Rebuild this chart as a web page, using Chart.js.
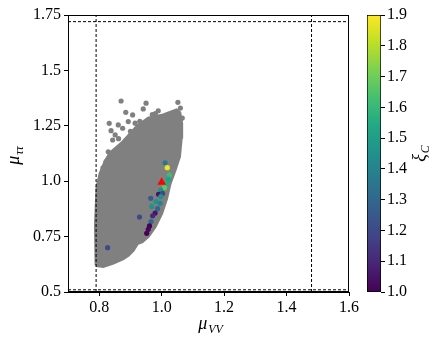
<!DOCTYPE html>
<html><head><meta charset="utf-8">
<script src="https://cdn.jsdelivr.net/npm/chart.js@4"></script>
<style>
html,body{margin:0;padding:0;background:#fff;}
#wrap{position:relative;width:441px;height:347px;overflow:hidden;}
canvas{position:absolute;top:0;}
</style>
</head><body>
<div id="wrap">
<canvas id="main" width="441" height="347" style="left:0;width:441px;height:347px"></canvas>
<canvas id="cb" width="86" height="347" style="left:355px;width:86px;height:347px"></canvas>
</div>
<script>
// ---------- data ----------
const xTicks = [0.8, 1.0, 1.2, 1.4, 1.6];
const xTickLabels = ['0.8', '1.0', '1.2', '1.4', '1.6'];
const yTicks = [0.5, 0.75, 1.0, 1.25, 1.5, 1.75];
const yTickLabels = ['0.5', '0.75', '1.0', '1.25', '1.5', '1.75'];
const cbTicks = [1.0, 1.1, 1.2, 1.3, 1.4, 1.5, 1.6, 1.7, 1.8, 1.9];
const cbTickLabels = ['1.0', '1.1', '1.2', '1.3', '1.4', '1.5', '1.6', '1.7', '1.8', '1.9'];
const cutX = [0.79, 1.48];
const cutY = [0.51, 1.72];

// outline of the dense grey cloud of scan points (mu_VV, mu_tautau)
const cloudOutline = [
  [0.790,0.620],[0.813,0.615],[0.845,0.630],[0.877,0.650],[0.893,0.665],[0.909,0.688],
  [0.922,0.718],[0.938,0.727],[0.957,0.750],[0.979,0.795],[1.000,0.855],[1.016,0.923],
  [1.027,0.990],[1.043,1.050],[1.057,1.111],[1.063,1.200],[1.064,1.261],[1.058,1.310],
  [1.048,1.321],[1.005,1.299],[0.957,1.284],[0.920,1.246],[0.876,1.178],[0.835,1.127],
  [0.819,1.089],[0.803,1.035],[0.793,0.975],[0.788,0.800],[0.790,0.620]
];
// isolated grey points outside the dense cloud
const cloudDots = [
  [0.870,1.362],[0.950,1.352],[1.052,1.356],[0.941,1.326],[0.885,1.311],[0.907,1.299],
  [0.989,1.318],[1.018,1.296],[1.038,1.306],[0.832,1.261],[0.861,1.254],[0.838,1.228],
  [0.875,1.239],[0.893,1.269],[0.851,1.209],[0.843,1.186],[0.829,1.133],[0.822,1.088],
  [0.970,1.300],[0.930,1.270],[0.900,1.225],[0.862,1.192],[1.060,1.330],[1.066,1.285],
  [0.812,1.060],[0.980,1.305],[0.915,1.262]
];
// points coloured by xi_C
const colorPts = [
  [1.011,1.083],[1.018,1.061],[1.025,1.028],[1.021,1.009],[1.016,0.990],[1.009,0.971],
  [0.997,0.960],[0.990,0.941],[1.003,0.945],[0.997,0.930],[0.965,0.923],[0.982,0.908],
  [0.995,0.900],[0.968,0.886],[0.987,0.876],[0.979,0.856],[0.971,0.844],[0.929,0.838],
  [0.966,0.818],[0.961,0.798],[0.957,0.783],[0.952,0.765],[0.827,0.700]
];
const colorXi = [
  1.35,1.88,1.62,1.52,1.55,1.68,
  1.45,1.05,1.20,1.45,1.25,1.45,
  1.40,1.45,1.30,1.05,1.10,1.20,
  1.30,1.00,1.02,1.00,1.20
];
const bestPoint = [[1.000, 0.995]];
const xiMin = 1.0, xiMax = 1.9;

// ---------- styling helpers ----------
const VIRIDIS = ['#440154','#482475','#414487','#355f8d','#2a788e','#21918c','#22a884','#44bf70','#7ad151','#bddf26','#fde725'];
function hexToRgb(h){return [parseInt(h.slice(1,3),16),parseInt(h.slice(3,5),16),parseInt(h.slice(5,7),16)];}
function viridis(t){
  t = Math.max(0, Math.min(1, t));
  const n = VIRIDIS.length - 1;
  const i = Math.min(n - 1, Math.floor(t * n));
  const f = t * n - i;
  const a = hexToRgb(VIRIDIS[i]), b = hexToRgb(VIRIDIS[i + 1]);
  const c = a.map((v, k) => Math.round(v + (b[k] - v) * f));
  return 'rgb(' + c.join(',') + ')';
}
const FONT = 'Liberation Serif, DejaVu Serif, serif';
const tickFont = {family: FONT, size: 16};
const GRAY = '#808080';
const toXY = arr => arr.map(p => ({x: p[0], y: p[1]}));

function drawSubLabel(ctx, base, sub, cx, cy, rot) {
  ctx.save();
  ctx.translate(cx, cy);
  ctx.rotate(rot);
  ctx.fillStyle = '#000';
  ctx.textBaseline = 'alphabetic';
  ctx.textAlign = 'left';
  const bf = 'italic 18px ' + FONT, sf = 'italic 12px ' + FONT;
  ctx.font = bf; const wb = ctx.measureText(base).width;
  ctx.font = sf; const ws = ctx.measureText(sub).width;
  const x0 = -(wb + ws + 1) / 2;
  ctx.font = bf; ctx.fillText(base, x0, 5);
  ctx.font = sf; ctx.fillText(sub, x0 + wb + 1, 9);
  ctx.restore();
}

const framePlugin = {
  id: 'frame',
  afterDatasetsDraw(chart) {
    const {ctx, chartArea: a} = chart;
    ctx.save();
    ctx.strokeStyle = '#000';
    ctx.lineWidth = 1;
    ctx.strokeRect(Math.round(a.left) + 0.5, Math.round(a.top) + 0.5, Math.round(a.right - a.left) - 1, Math.round(a.bottom - a.top) - 1);
    ctx.restore();
    drawSubLabel(ctx, 'μ', 'VV', (a.left + a.right) / 2 + 2, 324, 0);
    drawSubLabel(ctx, 'μ', 'ττ', 14, (a.top + a.bottom) / 2 + 2, -Math.PI / 2);
  }
};

const dashed = {borderColor: '#000', borderWidth: 1, borderDash: [3, 2], pointRadius: 0, showLine: true, fill: false, order: 0};

new Chart(document.getElementById('main'), {
  type: 'scatter',
  data: {
    datasets: [
      Object.assign({data: [{x: cutX[0], y: 0.5}, {x: cutX[0], y: 1.75}]}, dashed),
      Object.assign({data: [{x: cutX[1], y: 0.5}, {x: cutX[1], y: 1.75}]}, dashed),
      Object.assign({data: [{x: 0.7, y: cutY[0]}, {x: 1.6, y: cutY[0]}]}, dashed),
      Object.assign({data: [{x: 0.7, y: cutY[1]}, {x: 1.6, y: cutY[1]}]}, dashed),
      {data: toXY(bestPoint), pointStyle: 'triangle', pointRadius: 5, backgroundColor: '#ff0000', borderWidth: 0, order: 1},
      {data: toXY(colorPts), pointRadius: 2.6, borderWidth: 0,
       backgroundColor: colorXi.map(v => viridis((v - xiMin) / (xiMax - xiMin))), order: 2},
      {data: toXY(cloudDots), pointRadius: 2.6, borderWidth: 0, backgroundColor: GRAY, order: 3},
      {data: toXY(cloudOutline), showLine: true, fill: 'shape', tension: 0, pointRadius: 0,
       borderColor: GRAY, borderWidth: 3, backgroundColor: GRAY, order: 4}
    ]
  },
  options: {
    responsive: false,
    animation: false,
    events: [],
    layout: {padding: {left: 0, right: 92, top: 15, bottom: 0}},
    plugins: {legend: {display: false}, tooltip: {enabled: false}},
    scales: {
      x: {
        type: 'linear', min: 0.7, max: 1.6,
        afterBuildTicks: s => { s.ticks = xTicks.map(v => ({value: v})); },
        ticks: {font: tickFont, color: '#000', padding: 2, maxRotation: 0,
                callback: v => xTickLabels[xTicks.indexOf(v)]},
        grid: {drawOnChartArea: false, drawTicks: true, tickLength: 4, color: '#000'},
        border: {display: true, color: '#000'},
        afterFit: s => { s.height = 55; }
      },
      y: {
        type: 'linear', min: 0.5, max: 1.75,
        afterBuildTicks: s => { s.ticks = yTicks.map(v => ({value: v})); },
        ticks: {font: tickFont, color: '#000', padding: 3,
                callback: v => yTickLabels[yTicks.indexOf(v)]},
        grid: {drawOnChartArea: false, drawTicks: true, tickLength: 4, color: '#000'},
        border: {display: true, color: '#000'},
        afterFit: s => { s.width = 68; }
      }
    }
  },
  plugins: [framePlugin]
});

// ---------- colour bar ----------
const cbLabelPlugin = {
  id: 'cblabel',
  afterDraw(chart) {
    const a = chart.chartArea;
    drawSubLabel(chart.ctx, 'ξ', 'C', 65, (a.top + a.bottom) / 2, -Math.PI / 2);
  }
};
new Chart(document.getElementById('cb'), {
  type: 'bar',
  data: {
    labels: [''],
    datasets: [{
      data: [[xiMin, xiMax]],
      backgroundColor: ctx => {
        const ca = ctx.chart.chartArea;
        if (!ca) return null;
        const g = ctx.chart.ctx.createLinearGradient(0, ca.bottom, 0, ca.top);
        VIRIDIS.forEach((c, i) => g.addColorStop(i / (VIRIDIS.length - 1), c));
        return g;
      },
      borderColor: '#000', borderWidth: 1, borderSkipped: false,
      barPercentage: 1, categoryPercentage: 1
    }]
  },
  options: {
    responsive: false,
    animation: false,
    events: [],
    layout: {padding: {left: 12, right: 0, top: 15, bottom: 55}},
    plugins: {legend: {display: false}, tooltip: {enabled: false}},
    scales: {
      x: {display: false},
      y: {
        position: 'right', min: xiMin, max: xiMax,
        afterBuildTicks: s => { s.ticks = cbTicks.map(v => ({value: v})); },
        ticks: {font: tickFont, color: '#000', padding: 2,
                callback: v => cbTickLabels[cbTicks.findIndex(t => Math.abs(t - v) < 1e-9)]},
        grid: {drawOnChartArea: false, drawTicks: true, tickLength: 4, color: '#000'},
        border: {display: false},
        afterFit: s => { s.width = 60; }
      }
    }
  },
  plugins: [cbLabelPlugin]
});
</script>
</body></html>
